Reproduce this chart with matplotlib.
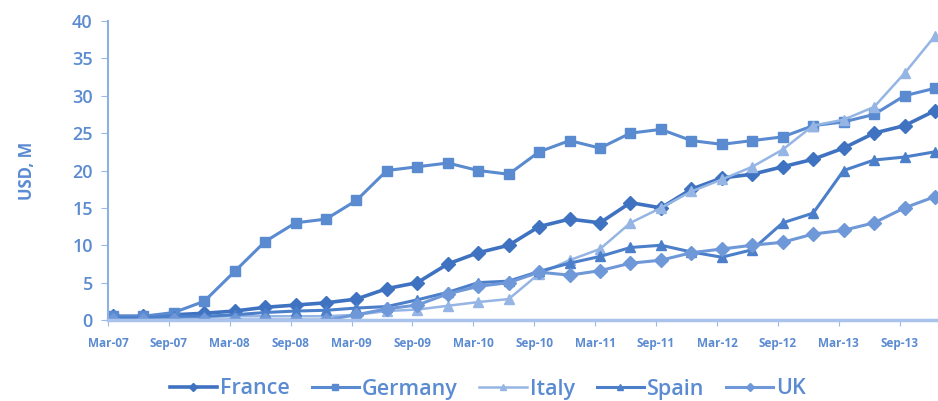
import numpy as np
import matplotlib
matplotlib.use("Agg")
import matplotlib.pyplot as plt

plt.rcParams['font.family'] = ['Open Sans', 'DejaVu Sans']

# quarterly data, Mar-07 .. Dec-13
tick_labels = ["Mar-07", "Sep-07", "Mar-08", "Sep-08", "Mar-09", "Sep-09", "Mar-10",
               "Sep-10", "Mar-11", "Sep-11", "Mar-12", "Sep-12", "Mar-13", "Sep-13"]

france = [0.5, 0.5, 0.7, 0.9, 1.2, 1.7, 2.0, 2.3, 2.8, 4.2, 5.0, 7.5, 9.0, 10.0,
          12.5, 13.5, 13.0, 15.7, 15.0, 17.5, 19.0, 19.5, 20.5, 21.5, 23.0, 25.0, 26.0, 28.0]
germany = [0.5, 0.5, 1.0, 2.5, 6.5, 10.5, 13.0, 13.5, 16.0, 20.0, 20.5, 21.0, 20.0, 19.5,
           22.5, 24.0, 23.0, 25.0, 25.5, 24.0, 23.5, 24.0, 24.5, 26.0, 26.5, 27.5, 30.0, 31.0]
italy = [0.2, 0.2, 0.3, 0.4, 0.5, 0.5, 0.5, 0.5, 0.7, 1.2, 1.4, 1.9, 2.4, 2.8,
         6.2, 8.0, 9.5, 13.0, 15.0, 17.2, 18.8, 20.5, 22.8, 26.0, 26.8, 28.5, 33.0, 38.0]
spain = [0.3, 0.3, 0.5, 0.5, 0.7, 1.0, 1.2, 1.3, 1.6, 1.8, 2.7, 3.7, 5.0, 5.2,
         6.5, 7.6, 8.5, 9.7, 10.0, 9.1, 8.4, 9.4, 13.0, 14.3, 20.0, 21.4, 21.8, 22.5]
uk = [0, 0, 0, 0, 0, 0, 0, 0, 0.7, 1.5, 2.0, 3.5, 4.5, 5.0,
      6.4, 6.0, 6.6, 7.6, 8.0, 9.0, 9.5, 10.0, 10.4, 11.5, 12.0, 13.0, 15.0, 16.5]

series = [
    ("France", france, "#3f72c0", "D", 7, 2.6),
    ("Germany", germany, "#5a8ad0", "s", 7.5, 2.2),
    ("Italy", italy, "#95b5e4", "^", 7, 1.8),
    ("Spain", spain, "#4c7fca", "^", 7, 2.2),
    ("UK", uk, "#6f98d8", "D", 7, 2.2),
]

text_col = "#5b8bd1"

fig = plt.figure(figsize=(9.38, 4.01), dpi=100)
ax = fig.add_axes([108 / 938, 81 / 401, 1 - 108 / 938, 299 / 401])

x = np.arange(len(france))
for name, vals, col, mk, ms, lw in series:
    ax.plot(x, vals, color=col, marker=mk, markersize=ms, linewidth=lw, label=name)

ax.set_xlim(-0.16, 27.1)
ax.set_ylim(0, 40)
ax.set_yticks(np.arange(0, 41, 5))
ax.set_xticks(np.arange(0, len(france), 2) - 0.16)
ax.set_xticklabels(tick_labels)

for lab in ax.get_xticklabels():
    lab.set_fontsize(8.5)
    lab.set_fontweight("bold")
    lab.set_color(text_col)
for lab in ax.get_yticklabels():
    lab.set_fontsize(13)
    lab.set_fontweight("semibold")
    lab.set_color(text_col)

ax.tick_params(axis="x", length=4, color="#9bb8e6", pad=8)
ax.tick_params(axis="y", length=5, color="#9bb8e6", pad=6)

for s in ["top", "right"]:
    ax.spines[s].set_visible(False)
ax.spines["left"].set_color("#8fb0e2")
ax.spines["left"].set_linewidth(1.5)
ax.spines["bottom"].set_color("#a9c3ec")
ax.spines["bottom"].set_linewidth(2.5)

ax.set_ylabel("USD, M", fontsize=12, fontweight="bold", color=text_col, labelpad=26)

fig.legend(loc="center", bbox_to_anchor=(488 / 938, 1 - 389 / 401), ncol=5,
           frameon=False, fontsize=15.5, labelcolor=text_col, handlelength=2.2,
           handletextpad=0.15, columnspacing=1.0, markerscale=0.6,
           prop={"size": 15.5, "weight": "semibold"})

fig.savefig("out.png", dpi=100, facecolor="white")
